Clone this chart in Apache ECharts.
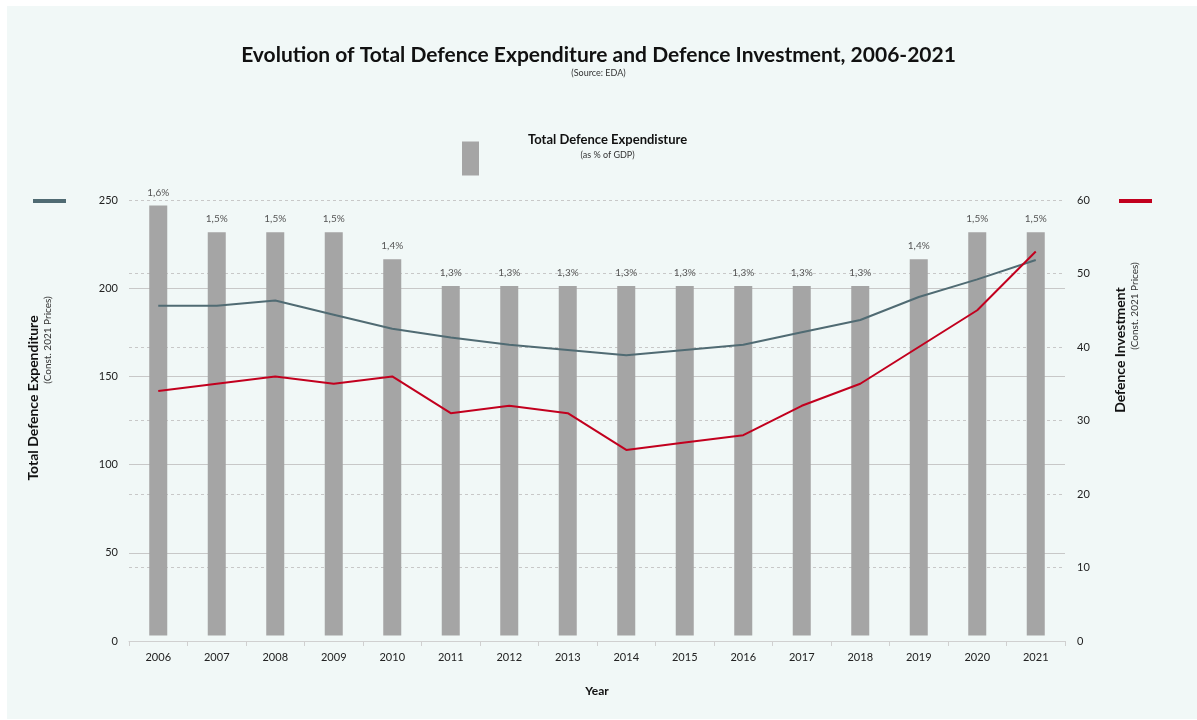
<!DOCTYPE html>
<html>
<head>
<meta charset="utf-8">
<script src="https://cdn.jsdelivr.net/npm/echarts@6/dist/echarts.min.js"></script>
<style>
  html, body { margin: 0; padding: 0; background: #ffffff; }
  #chart { width: 1197px; height: 720px; }
</style>
</head>
<body>
<div id="chart"></div>
<script>
var years = ['2006', '2007', '2008', '2009', '2010', '2011', '2012', '2013',
  '2014', '2015', '2016', '2017', '2018', '2019', '2020', '2021'];
// % of GDP (bars)
var gdpShare = [1.6, 1.5, 1.5, 1.5, 1.4, 1.3, 1.3, 1.3, 1.3, 1.3, 1.3, 1.3, 1.3, 1.4, 1.5, 1.5];
// Total defence expenditure, bn EUR (left axis)
var totalExpenditure = [190, 190, 193, 185, 177, 172, 168, 165, 162, 165, 168, 175, 182, 195, 205, 216];
// Defence investment, bn EUR (right axis)
var defenceInvestment = [34, 35, 36, 35, 36, 31, 32, 31, 26, 27, 28, 32, 35, 40, 45, 53];

var font = 'Lato, "Open Sans", sans-serif';
var chartDom = document.getElementById('chart');
var chart = echarts.init(chartDom);

var option = {
  backgroundColor: '#ffffff',
  textStyle: { fontFamily: font },
  title: {
    text: 'Evolution of Total Defence Expenditure and Defence Investment, 2006-2021',
    subtext: '(Source: EDA)',
    left: 'center',
    top: 40,
    itemGap: 3,
    textStyle: { fontFamily: font, fontSize: 21, fontWeight: 'bold', color: '#111111' },
    subtextStyle: { fontFamily: font, fontSize: 9, color: '#333333' }
  },
  graphic: [
    {
      type: 'rect',
      z: -10,
      shape: { x: 7, y: 6, width: 1190, height: 713 },
      style: { fill: '#f1f8f7' }
    },
    {
      type: 'text',
      x: 33, y: 398,
      rotation: Math.PI / 2,
      style: {
        text: 'Total Defence Expenditure',
        fontFamily: font, fontSize: 14, fontWeight: 'bold', fill: '#111111',
        align: 'center', verticalAlign: 'middle'
      }
    },
    {
      type: 'text',
      x: 48, y: 340,
      rotation: Math.PI / 2,
      style: {
        text: '(Const. 2021 Prices)',
        fontFamily: font, fontSize: 10, fill: '#333333',
        align: 'center', verticalAlign: 'middle'
      }
    },
    {
      type: 'text',
      x: 1120, y: 350,
      rotation: Math.PI / 2,
      style: {
        text: 'Defence Investment',
        fontFamily: font, fontSize: 14, fontWeight: 'bold', fill: '#111111',
        align: 'center', verticalAlign: 'middle'
      }
    },
    {
      type: 'text',
      x: 1135, y: 306,
      rotation: Math.PI / 2,
      style: {
        text: '(Const. 2021 Prices)',
        fontFamily: font, fontSize: 10, fill: '#333333',
        align: 'center', verticalAlign: 'middle'
      }
    }
  ],
  legend: [
    {
      data: ['Total Defence Expenditure (% of GDP)'],
      left: 457,
      top: 128,
      icon: 'rect',
      itemWidth: 17,
      itemHeight: 34,
      formatter: function () {
        return '{a|Total Defence Expendisture}\n{b|(as % of GDP)}';
      },
      textStyle: {
        padding: [0, 0, 24, 44],
        rich: {
          a: { fontFamily: font, fontSize: 13, fontWeight: 'bold', color: '#111111', lineHeight: 17 },
          b: { fontFamily: font, fontSize: 9, color: '#333333', width: 158, align: 'center', lineHeight: 14 }
        }
      }
    },
    {
      data: ['Total Defence Expenditure'],
      left: 28,
      top: 194,
      icon: 'rect',
      itemWidth: 33,
      itemHeight: 4,
      formatter: function () { return ''; }
    },
    {
      data: ['Defence Investment'],
      left: 1114,
      top: 194,
      icon: 'rect',
      itemWidth: 33,
      itemHeight: 4,
      formatter: function () { return ''; }
    }
  ],
  grid: {
    left: 129,
    right: 132,
    top: 200,
    bottom: 79,
    containLabel: false
  },
  xAxis: {
    type: 'category',
    data: years,
    name: 'Year',
    nameLocation: 'middle',
    nameGap: 44,
    nameTextStyle: { fontFamily: font, fontSize: 12, fontWeight: 'bold', color: '#111111' },
    axisLine: { lineStyle: { color: '#d0d0d0' } },
    axisTick: { show: true, length: 5, lineStyle: { color: '#d0d0d0' } },
    axisLabel: { fontFamily: font, fontSize: 11, color: '#222222', margin: 11 }
  },
  yAxis: [
    {
      type: 'value',
      min: 0,
      max: 250,
      interval: 50,
      position: 'left',
      axisLine: { show: false },
      axisTick: { show: false },
      axisLabel: { fontFamily: font, fontSize: 11, color: '#222222', margin: 11 },
      splitLine: { showMaxLine: false, lineStyle: { color: '#c8c8c8', width: 1 } }
    },
    {
      type: 'value',
      min: 0,
      max: 60,
      interval: 10,
      position: 'right',
      axisLine: { show: false },
      axisTick: { show: false },
      axisLabel: { fontFamily: font, fontSize: 11, color: '#222222', margin: 12 },
      splitLine: { lineStyle: { color: '#c8c8c8', width: 1, type: [3, 3] } }
    },
    {
      type: 'value',
      min: -0.02,
      max: 1.62,
      show: false,
      splitLine: { show: false }
    }
  ],
  series: [
    {
      name: 'Total Defence Expenditure (% of GDP)',
      type: 'bar',
      yAxisIndex: 2,
      data: gdpShare,
      barWidth: 18,
      itemStyle: { color: '#a5a5a5' },
      label: {
        show: true,
        position: 'top',
        distance: 8,
        fontFamily: font,
        fontSize: 10,
        color: '#555555',
        formatter: function (p) {
          return p.value.toFixed(1).replace('.', ',') + '%';
        }
      },
      z: 1
    },
    {
      name: 'Total Defence Expenditure',
      type: 'line',
      yAxisIndex: 0,
      data: totalExpenditure,
      symbol: 'none',
      lineStyle: { color: '#506b73', width: 2 },
      itemStyle: { color: '#506b73' },
      z: 3
    },
    {
      name: 'Defence Investment',
      type: 'line',
      yAxisIndex: 1,
      data: defenceInvestment,
      symbol: 'none',
      lineStyle: { color: '#c2001e', width: 2 },
      itemStyle: { color: '#c2001e' },
      z: 4
    }
  ]
};

chart.setOption(option);
</script>
</body>
</html>
